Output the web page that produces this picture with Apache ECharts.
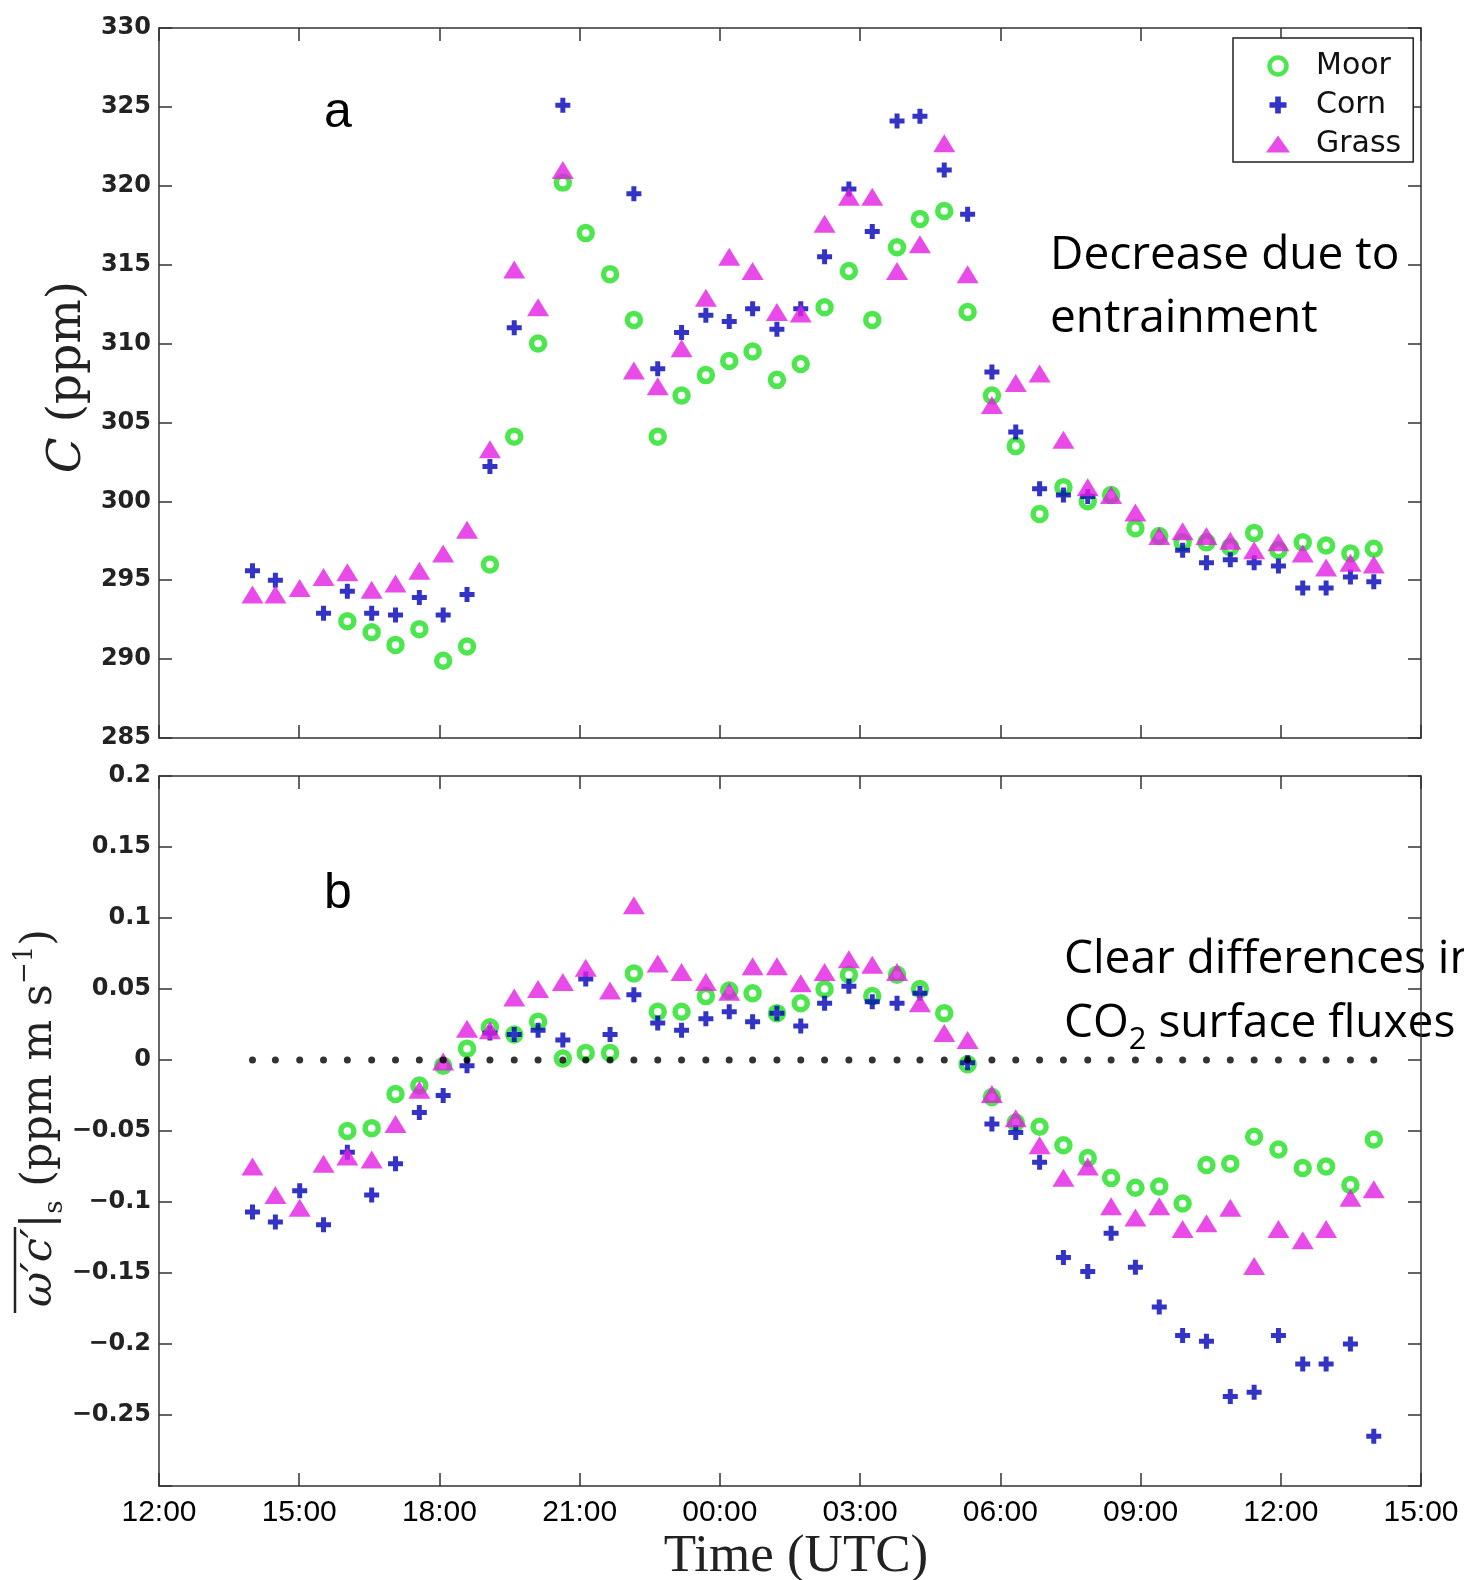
<!DOCTYPE html>
<html><head><meta charset="utf-8">
<script src="https://cdn.jsdelivr.net/npm/echarts@6/dist/echarts.min.js"></script>
<style>html,body{margin:0;padding:0;background:#fff}#c{width:1464px;height:1580px}</style>
</head><body><div id="c"></div>
<script>
// Hours since 12:00 UTC on day 1
const times = [2.00, 2.49, 3.01, 3.52, 4.03, 4.55, 5.06, 5.57, 6.08, 6.59, 7.08, 7.60, 8.11, 8.64, 9.13, 9.65,
  10.16, 10.67, 11.18, 11.70, 12.20, 12.70, 13.22, 13.73, 14.24, 14.76, 15.26, 15.79, 16.28, 16.80, 17.30, 17.82,
  18.33, 18.84, 19.35, 19.87, 20.37, 20.89, 21.40, 21.90, 22.41, 22.92, 23.43, 23.95, 24.47, 24.97, 25.49, 25.99];

// Panel a: C (ppm)
const moorC = [null, null, null, null, 292.4, 291.7, 290.9, 291.9, 289.9, 290.8, 296.0, 304.1, 310.0, 320.2, 317.0, 314.4,
  311.5, 304.1, 306.7, 308.0, 308.9, 309.5, 307.7, 308.7, 312.3, 314.6, 311.5, 316.1, 317.9, 318.4, 312.0, 306.7,
  303.5, 299.2, 300.9, 300.0, 300.4, 298.3, 297.8, 297.4, 297.4, 297.1, 298.0, 296.9, 297.4, 297.2, 296.7, 297.0];
const cornC = [295.6, 295.0, null, 292.9, 294.3, 292.9, 292.8, 293.9, 292.8, 294.1, 302.2, 311.0, null, 325.1, null, null,
  319.5, 308.4, 310.7, 311.8, 311.4, 312.2, 310.9, 312.2, 315.5, 319.8, 317.1, 324.1, 324.4, 321.0, 318.2, 308.2,
  304.4, 300.8, 300.4, 300.3, null, null, null, 296.9, 296.1, 296.3, 296.1, 295.9, 294.5, 294.5, 295.2, 294.9];
const grassC = [294.1, 294.1, 294.5, 295.2, 295.5, 294.4, 294.8, 295.6, 296.7, 298.2, 303.3, 314.7, 312.3, 321.0, null, null,
  308.3, 307.3, 309.7, 312.9, 315.5, 314.6, 312.0, 311.9, 317.6, 319.3, 319.3, 314.6, 316.3, 322.7, 314.4, 306.1,
  307.5, 308.1, 303.9, 300.9, 300.4, 299.3, 297.8, 298.1, 297.8, 297.5, 296.9, 297.4, 296.7, 295.8, 296.1, 296.0];

// Panel b: surface flux (ppm m s-1)
const moorF = [null, null, null, null, -0.050, -0.048, -0.024, -0.018, -0.004, 0.008, 0.023, 0.018, 0.027, 0.001, 0.005, 0.005,
  0.061, 0.034, 0.034, 0.045, 0.049, 0.047, 0.033, 0.040, 0.050, 0.060, 0.045, 0.060, 0.050, 0.033, -0.003, -0.026,
  -0.044, -0.047, -0.060, -0.069, -0.083, -0.090, -0.089, -0.101, -0.074, -0.073, -0.054, -0.063, -0.076, -0.075, -0.088, -0.056];
const cornF = [-0.107, -0.114, -0.092, -0.116, -0.065, -0.095, -0.073, -0.037, -0.025, -0.004, 0.019, 0.018, 0.021, 0.014, 0.057, 0.018,
  0.046, 0.026, 0.021, 0.029, 0.034, 0.027, 0.033, 0.024, 0.040, 0.052, 0.041, 0.040, 0.047, null, -0.002, -0.045,
  -0.051, -0.072, -0.139, -0.149, -0.122, -0.146, -0.174, -0.194, -0.198, -0.237, -0.234, -0.194, -0.214, -0.214, -0.200, -0.265];
const grassF = [-0.075, -0.095, -0.104, -0.073, -0.068, -0.070, -0.045, -0.021, -0.001, 0.022, 0.021, 0.044, 0.050, 0.055, 0.065, 0.049,
  0.109, 0.068, 0.062, 0.055, 0.048, 0.066, 0.066, 0.054, 0.062, 0.071, 0.067, 0.062, 0.040, 0.019, 0.014, -0.024,
  -0.041, -0.060, -0.083, -0.075, -0.103, -0.111, -0.103, -0.119, -0.115, -0.104, -0.145, -0.119, -0.127, -0.119, -0.097, -0.091];
const zeroLine = [0,0,0,0,0,0,0,0,0,0,0,0,0,0,0,0,0,0,0,0,0,0,0,0,0,0,0,0,0,0,0,0,0,0,0,0,0,0,0,0,0,0,0,0,0,0,0,0];

const seriesNames = ['Moor', 'Corn', 'Grass'];
const panelLabels = ['a', 'b'];
const noteA = 'Decrease due to\nentrainment';

const GREEN = '#22e022', BLUE = '#0000b8', MAG = '#e41ee4';
const PLUS = 'path://M5,0H10V5H15V10H10V15H5V10H0V5H5Z';

function pairs(arr) {
  const out = [];
  for (let i = 0; i < times.length; i++) if (arr[i] !== null) out.push([times[i], arr[i]]);
  return out;
}
function fmtClock(h) {
  const hh = Math.round(12 + h) % 24;
  return (hh < 10 ? '0' : '') + hh + ':00';
}
function fmtFlux(v) {
  if (Math.abs(v + 0.3) < 1e-6) return '';
  return String(Math.round(v * 100) / 100).replace('-', '\u2212');
}

const lineSt = { color: '#333', width: 1.5 };
function xAx(g, pos, showLabel) {
  return {
    type: 'value', gridIndex: g, position: pos, min: 0, max: 27, interval: 3,
    axisLine: { show: true, onZero: false, lineStyle: lineSt },
    axisTick: { show: true, inside: true, length: 13, lineStyle: lineSt },
    axisLabel: { show: showLabel, margin: 12, fontFamily: 'Liberation Sans', fontSize: 30, color: '#000',
      formatter: fmtClock, showMinLabel: true, showMaxLabel: true },
    splitLine: { show: false }
  };
}
function yAx(g, pos, min, max, interval, showLabel, fmt) {
  return {
    type: 'value', gridIndex: g, position: pos, min: min, max: max, interval: interval,
    axisLine: { show: true, onZero: false, lineStyle: lineSt },
    axisTick: { show: true, inside: true, length: 13, lineStyle: lineSt },
    axisLabel: { show: showLabel, margin: 8, fontFamily: 'DejaVu Sans', fontWeight: 'bold', fontSize: 24, color: '#222',
      formatter: fmt, showMinLabel: true, showMaxLabel: true },
    splitLine: { show: false }
  };
}

function sc(name, data, xi, yi) {
  const base = { type: 'scatter', name: name, xAxisIndex: xi, yAxisIndex: yi, data: pairs(data), animation: false, silent: true };
  if (name === 'Moor') {
    base.symbol = 'circle'; base.symbolSize = 13;
    base.itemStyle = { color: '#fff', borderColor: GREEN, borderWidth: 5.5 };
  } else if (name === 'Corn') {
    base.symbol = PLUS; base.symbolSize = 15;
    base.itemStyle = { color: BLUE };
  } else if (name === 'Grass') {
    base.symbol = 'triangle'; base.symbolSize = [22, 18];
    base.itemStyle = { color: MAG };
  } else {
    base.symbol = 'circle'; base.symbolSize = 7;
    base.itemStyle = { color: '#000' };
  }
  return base;
}

const txt = (o) => Object.assign({ type: 'text', silent: true }, o);

const option = {
  backgroundColor: '#fff',
  animation: false,
  grid: [
    { left: 159, top: 28, width: 1262, height: 710 },
    { left: 159, top: 776, width: 1262, height: 710 }
  ],
  xAxis: [xAx(0, 'bottom', false), xAx(0, 'top', false), xAx(1, 'bottom', true), xAx(1, 'top', false)],
  yAxis: [
    yAx(0, 'left', 285, 330, 5, true, (v) => String(v)),
    yAx(0, 'right', 285, 330, 5, false),
    yAx(1, 'left', -0.3, 0.2, 0.05, true, fmtFlux),
    yAx(1, 'right', -0.3, 0.2, 0.05, false)
  ],
  legend: {
    data: [
      { name: 'Moor', icon: 'circle', itemStyle: { color: '#fff', borderColor: GREEN, borderWidth: 4.5 } },
      { name: 'Corn', icon: PLUS, itemStyle: { color: BLUE, borderWidth: 0 } },
      { name: 'Grass', icon: 'triangle', itemStyle: { color: MAG, borderWidth: 0 } }
    ],
    orient: 'vertical', left: 1233, top: 38, padding: [13, 12, 3, 33], itemGap: 9,
    itemWidth: 24, itemHeight: 17, selectedMode: false,
    borderColor: '#222', borderWidth: 1.5, borderRadius: 0, backgroundColor: '#fff',
    textStyle: { fontFamily: 'DejaVu Sans', fontSize: 30, color: '#111', padding: [0, 0, 0, 21] }
  },
  series: [
    sc('Moor', moorC, 0, 0), sc('Corn', cornC, 0, 0), sc('Grass', grassC, 0, 0),
    sc('Moor', moorF, 2, 2), sc('Corn', cornF, 2, 2), sc('Grass', grassF, 2, 2),
    sc('zero', zeroLine, 2, 2)
  ],
  graphic: [
    txt({ x: 338, y: 113, style: { text: panelLabels[0], font: '50px "Liberation Sans"', fill: '#000',
      align: 'center', verticalAlign: 'middle', textAlign: 'center', textVerticalAlign: 'middle' } }),
    txt({ x: 338, y: 894, style: { text: panelLabels[1], font: '50px "Liberation Sans"', fill: '#000',
      align: 'center', verticalAlign: 'middle', textAlign: 'center', textVerticalAlign: 'middle' } }),
    txt({ x: 1050, y: 224, style: { text: noteA, font: '46px "Open Sans"', lineHeight: 63, fill: '#000',
      align: 'left', verticalAlign: 'top', textAlign: 'left', textVerticalAlign: 'top' } }),
    txt({ x: 1064, y: 928, style: {
      text: '{t|Clear differences in}\n{t|CO}{s|2}{t| surface fluxes}',
      align: 'left', verticalAlign: 'top', textAlign: 'left', textVerticalAlign: 'top', fill: '#000',
      rich: {
        t: { fontFamily: 'Open Sans', fontSize: 46, lineHeight: 64, fill: '#000', color: '#000' },
        s: { fontFamily: 'Open Sans', fontSize: 31, lineHeight: 32, verticalAlign: 'bottom', fill: '#000', color: '#000' }
      } } }),
    // y-axis names
    txt({ x: 68, y: 377, rotation: Math.PI / 2, style: {
      text: '{i|C}{r| (ppm)}', align: 'center', verticalAlign: 'middle', textAlign: 'center', textVerticalAlign: 'middle',
      rich: {
        i: { fontFamily: 'DejaVu Serif', fontStyle: 'italic', fontSize: 47, color: '#222', fill: '#222' },
        r: { fontFamily: 'DejaVu Serif', fontSize: 47, color: '#222', fill: '#222' }
      } } }),
    txt({ x: 40, y: 1118, rotation: Math.PI / 2, style: {
      text: '{o|\u03c9\u2032c\u2032}{n||}{s|s}{n| (ppm m s}{p|\u22121}{n|)}',
      align: 'center', verticalAlign: 'middle', textAlign: 'center', textVerticalAlign: 'middle',
      rich: {
        o: { fontFamily: 'DejaVu Serif', fontStyle: 'italic', fontSize: 43, lineHeight: 56, color: '#222', fill: '#222' },
        n: { fontFamily: 'DejaVu Serif', fontSize: 43, lineHeight: 56, color: '#222', fill: '#222' },
        s: { fontFamily: 'DejaVu Serif', fontSize: 26, lineHeight: 26, verticalAlign: 'bottom', color: '#222', fill: '#222' },
        p: { fontFamily: 'DejaVu Serif', fontSize: 26, lineHeight: 26, verticalAlign: 'top', color: '#222', fill: '#222' }
      } } }),
    { type: 'line', silent: true, shape: { x1: 15, y1: 1227, x2: 15, y2: 1313 }, style: { stroke: '#222', lineWidth: 2.5 } },
    // x-axis name
    txt({ x: 796, y: 1557, style: { text: 'Time (UTC)', font: '53px "Liberation Serif"', fill: '#222',
      align: 'center', verticalAlign: 'middle', textAlign: 'center', textVerticalAlign: 'middle' } })
  ]
};

const chart = echarts.init(document.getElementById('c'), null, { renderer: 'canvas', width: 1464, height: 1580 });
chart.setOption(option);
</script>
</body></html>
